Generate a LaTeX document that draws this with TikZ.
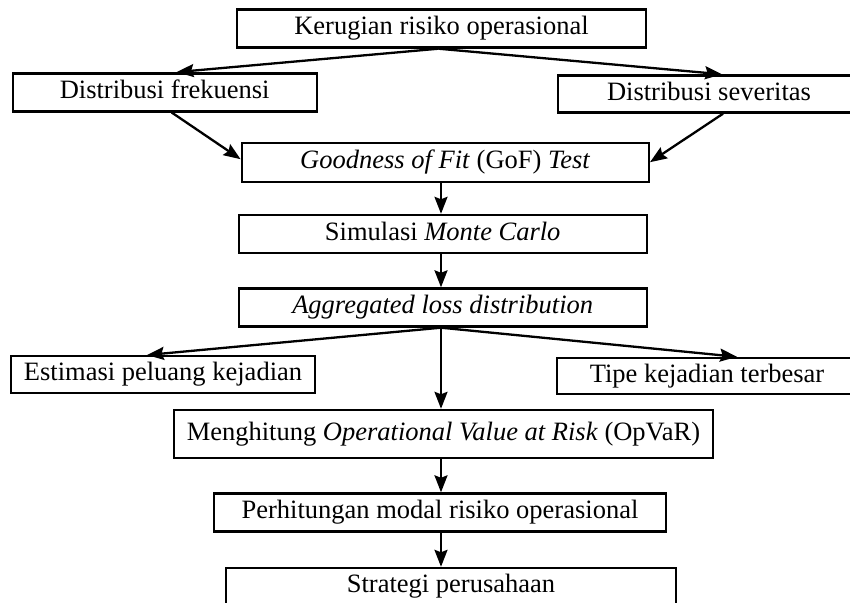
\documentclass[tikz,border=0pt]{standalone}
\usepackage{fontspec}
\setmainfont{Liberation Serif}
\usetikzlibrary{arrows.meta}
\begin{document}
\begin{tikzpicture}[x=1pt,y=-1pt,
  box/.style={draw, line width=2.4pt, rectangle, inner sep=0pt, align=center,
    font=\fontsize{26.5pt}{30pt}\selectfont, text height=18pt, text depth=6pt},
  arr/.style={line width=2.3pt, -{Stealth[length=17pt,width=13pt,inset=2.5pt]}}]
\useasboundingbox (0,0) rectangle (850,602);
\fill[white] (0,0) rectangle (850,602);
\clip (0,0) rectangle (850,602);
\node[box, minimum width=409pt, minimum height=38pt] (k1) at (441.5,28.5) {Kerugian risiko operasional};
\node[box, minimum width=304pt, minimum height=38pt] (frek) at (164.7,92.3) {Distribusi frekuensi};
\node[box, minimum width=302pt, minimum height=37pt] (sev) at (709,94) {Distribusi severitas};
\node[box, minimum width=407pt, minimum height=39pt] (gof) at (445.3,162.2) {\textit{Goodness of Fit} (GoF) \textit{Test}};
\node[box, minimum width=408pt, minimum height=38pt] (sim) at (442.7,234) {Simulasi \textit{Monte Carlo}};
\node[box, minimum width=408pt, minimum height=38pt] (agg) at (442.7,307.5) {\textit{Aggregated loss distribution}};
\node[box, minimum width=304pt, minimum height=37pt] (est) at (163,374.7) {Estimasi peluang kejadian};
\node[box, minimum width=300pt, minimum height=36pt] (tipe) at (707,376) {Tipe kejadian terbesar};
\node[box, minimum width=539pt, minimum height=48pt] (meng) at (443.5,434) {Menghitung \textit{Operational Value at Risk} (OpVaR)};
\node[box, minimum width=452pt, minimum height=38pt] (perh) at (440,512.5) {Perhitungan modal risiko operasional};
\node[box, minimum width=450pt, minimum height=37pt] (strat) at (451,586.5) {Strategi perusahaan};
\coordinate (vx) at (441,0);
\draw[arr] ([xshift=-3pt]k1.south) -- ([xshift=12pt]frek.north);
\draw[arr] ([xshift=-3pt]k1.south) -- ([xshift=13pt]sev.north);
\draw[arr] ([xshift=7pt]frek.south) -- ([yshift=3pt]gof.west);
\draw[arr] ([xshift=14pt]sev.south) -- (gof.east);
\draw[arr] (gof.south -| vx) -- (sim.north -| vx);
\draw[arr] (sim.south -| vx) -- (agg.north -| vx);
\draw[arr] (agg.south -| vx) -- ([xshift=-16pt]est.north);
\draw[arr] (agg.south -| vx) -- ([xshift=30pt]tipe.north);
\draw[arr] (agg.south -| vx) -- (meng.north -| vx);
\draw[arr] (meng.south -| vx) -- (perh.north -| vx);
\draw[arr] (perh.south -| vx) -- (strat.north -| vx);
\end{tikzpicture}
\end{document}
